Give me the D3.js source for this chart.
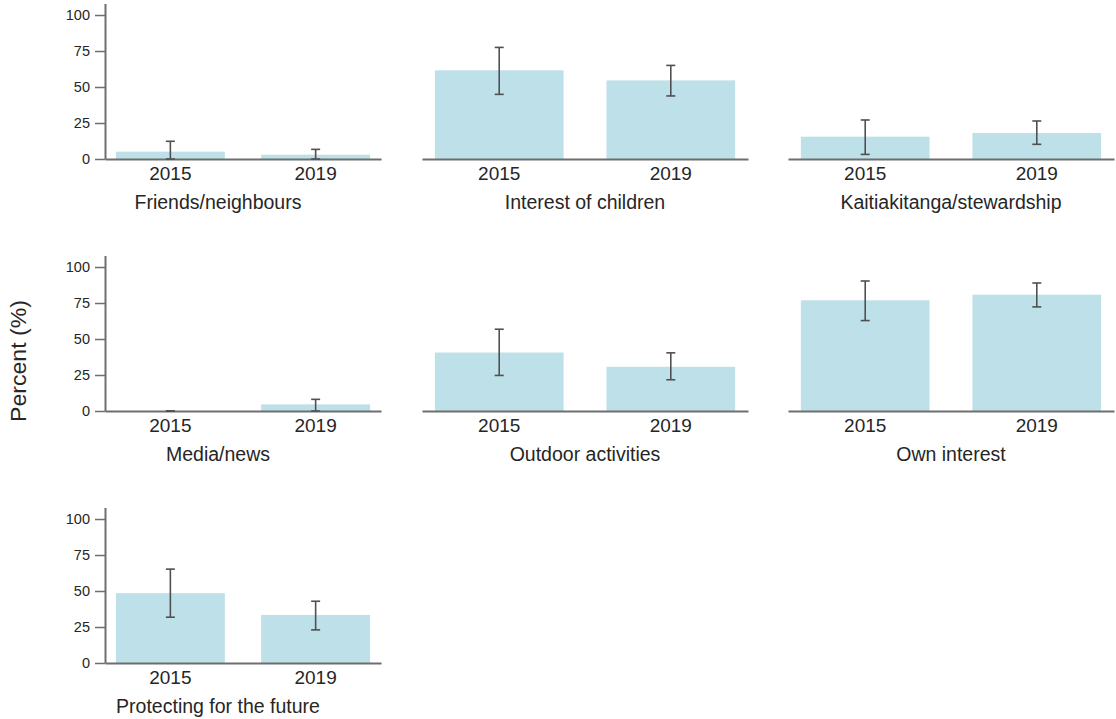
<!DOCTYPE html>
<html>
<head>
<meta charset="utf-8">
<script src="https://cdn.jsdelivr.net/npm/d3@7"></script>
<style>
  html, body { margin: 0; padding: 0; background: #ffffff; }
  svg { display: block; font-family: "Liberation Sans", Arial, sans-serif; }
  text { fill: #262626; }
</style>
</head>
<body>
<svg id="chart" width="1116" height="719"></svg>
<script>
// Reasons for involvement, share of respondents by survey year
const categories = [
  "Friends/neighbours",
  "Interest of children",
  "Kaitiakitanga/stewardship",
  "Media/news",
  "Outdoor activities",
  "Own interest",
  "Protecting for the future"
];
const years = ["2015", "2019"];

const pct2015  = [5.1, 61.6, 15.5, 0.0, 40.6, 76.9, 48.5];
const low2015  = [0.0, 44.9, 3.2, 0.0, 24.7, 62.8, 31.8];
const high2015 = [12.3, 77.5, 27.1, 0.0, 56.8, 90.3, 65.2];

const pct2019  = [3.0, 54.6, 18.1, 4.6, 30.7, 80.8, 33.4];
const low2019  = [0.0, 43.8, 10.2, 0.0, 21.7, 72.3, 23.0];
const high2019 = [6.7, 65.0, 26.4, 8.1, 40.4, 88.9, 42.9];

const yTicks = [0, 25, 50, 75, 100];
const yTitle = "Percent (%)";

// Facet grid geometry
const colRanges = [[105, 381], [422, 748], [788, 1114]];
const colLabelX = [218, 585, 951];
const firstZero = 159, rowStep = 252, plotHeight = 155.5, yMax = 108;

const svg = d3.select("#chart");

const panels = categories.map((name, i) => ({
  name,
  row: Math.floor(i / 3),
  col: i % 3,
  bars: [
    { year: years[0], value: pct2015[i], lo: low2015[i], hi: high2015[i] },
    { year: years[1], value: pct2019[i], lo: low2019[i], hi: high2019[i] }
  ]
}));

panels.forEach(p => {
  const zeroY = firstZero + p.row * rowStep;
  const [x0, x1] = colRanges[p.col];

  const x = d3.scaleBand().domain(years).range([x0, x1])
    .paddingInner(0.25).paddingOuter(0.075);
  const y = d3.scaleLinear().domain([0, yMax]).range([zeroY, zeroY - plotHeight]);

  const g = svg.append("g");

  // bars
  g.selectAll("rect.bar").data(p.bars).join("rect")
    .attr("class", "bar")
    .attr("x", d => x(d.year))
    .attr("width", x.bandwidth())
    .attr("y", d => y(d.value))
    .attr("height", d => y(0) - y(d.value))
    .attr("fill", "#bde0e9");

  // x axis baseline and year labels
  const xAxis = g.append("g").attr("transform", `translate(0,${zeroY})`)
    .call(d3.axisBottom(x).tickSize(0).tickPadding(8));
  xAxis.select(".domain").attr("stroke", "#6e6e6e").attr("stroke-width", 2);
  xAxis.selectAll("text").style("font-size", "19px").attr("fill", "#262626")
    .attr("font-family", null);

  // y axis on the first column only
  if (p.col === 0) {
    const yAxis = g.append("g").attr("transform", `translate(${x0},0)`)
      .call(d3.axisLeft(y).tickValues(yTicks).tickSize(10).tickPadding(5).tickSizeOuter(0));
    yAxis.select(".domain").attr("stroke", "#6e6e6e").attr("stroke-width", 2);
    yAxis.selectAll(".tick line").attr("stroke", "#6e6e6e").attr("stroke-width", 1.5);
    yAxis.selectAll("text").style("font-size", "14.5px").attr("fill", "#262626")
      .attr("font-family", null);
  }

  // error bars
  const capHalf = 4.5;
  const eb = g.selectAll("g.err").data(p.bars).join("g").attr("class", "err")
    .attr("stroke", "#505050").attr("stroke-width", 1.6);
  eb.append("line")
    .attr("x1", d => x(d.year) + x.bandwidth() / 2)
    .attr("x2", d => x(d.year) + x.bandwidth() / 2)
    .attr("y1", d => y(d.lo)).attr("y2", d => y(d.hi));
  eb.append("line")
    .attr("x1", d => x(d.year) + x.bandwidth() / 2 - capHalf)
    .attr("x2", d => x(d.year) + x.bandwidth() / 2 + capHalf)
    .attr("y1", d => y(d.hi)).attr("y2", d => y(d.hi));
  eb.append("line")
    .attr("x1", d => x(d.year) + x.bandwidth() / 2 - capHalf)
    .attr("x2", d => x(d.year) + x.bandwidth() / 2 + capHalf)
    .attr("y1", d => y(d.lo)).attr("y2", d => y(d.lo));

  // facet label
  g.append("text")
    .attr("x", colLabelX[p.col])
    .attr("y", zeroY + 50)
    .attr("text-anchor", "middle")
    .style("font-size", "19.5px")
    .text(p.name);
});

// shared y title
svg.append("text")
  .attr("transform", "translate(26,361) rotate(-90) scale(1.05,1)")
  .attr("text-anchor", "middle")
  .style("font-size", "22px")
  .text(yTitle);
</script>
</body>
</html>
